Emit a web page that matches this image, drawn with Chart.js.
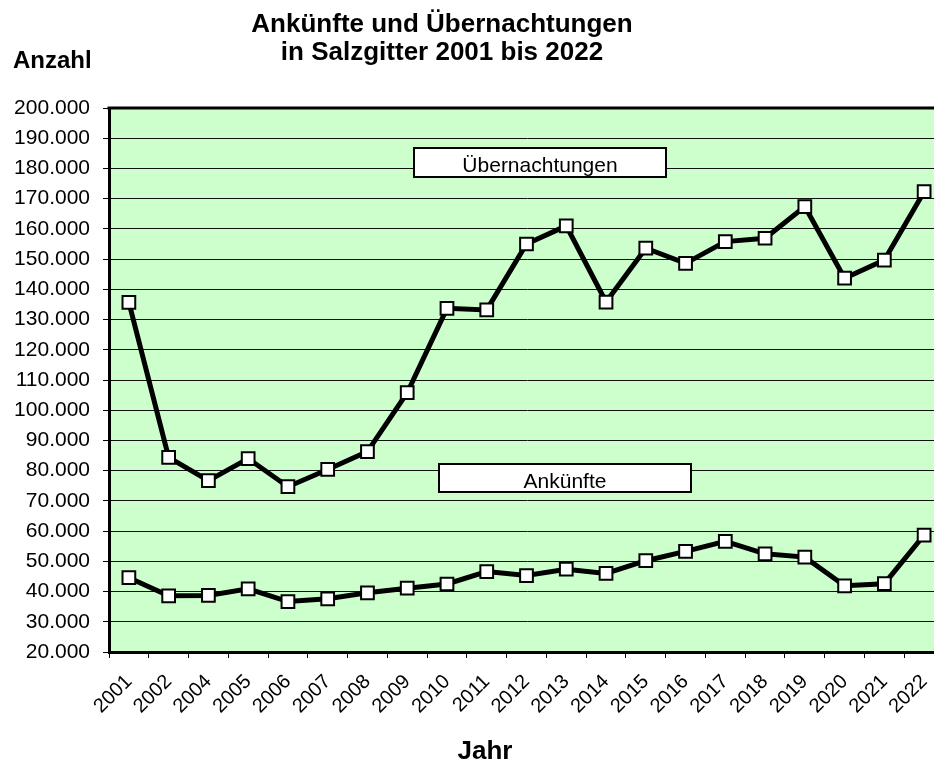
<!DOCTYPE html>
<html lang="de">
<head>
<meta charset="utf-8">
<title>Ankünfte und Übernachtungen in Salzgitter 2001 bis 2022</title>
<script src="https://cdn.jsdelivr.net/npm/chart.js@4.4.1/dist/chart.umd.min.js"></script>
<style>
  html, body { margin: 0; padding: 0; background: #ffffff; overflow: hidden; width: 934px; height: 762px; }
  #wrap { position: relative; width: 934px; height: 762px; overflow: hidden; }
  #chart { position: absolute; left: 0; top: 0; }
</style>
</head>
<body>
<div id="wrap"><canvas id="chart" width="944" height="762"></canvas></div>
<script>
// Jahre (2003 fehlt in der Statistik)
const years = ['2001', '2002', '2004', '2005', '2006', '2007', '2008', '2009', '2010', '2011',
  '2012', '2013', '2014', '2015', '2016', '2017', '2018', '2019', '2020', '2021', '2022'];

const uebernachtungen = [135700, 84400, 76700, 84000, 74700, 80400, 86300, 105800, 133700, 133200,
  155000, 161000, 135800, 153600, 148600, 155800, 156900, 167400, 143700, 149700, 172300];

const ankuenfte = [44600, 38600, 38700, 40900, 36700, 37600, 39600, 41100, 42500, 46600,
  45300, 47400, 46000, 50200, 53300, 56600, 52500, 51400, 41900, 42600, 58700];

const yMin = 20000;
const yMax = 200000;
const yStep = 10000;

const titleLines = ['Ankünfte und Übernachtungen', 'in Salzgitter 2001 bis 2022'];
const yTitle = 'Anzahl';
const xTitle = 'Jahr';
const seriesNames = ['Übernachtungen', 'Ankünfte'];

const FONT = '"Liberation Sans", Arial, Helvetica, sans-serif';

// Tausenderpunkt wie in der deutschen Schreibweise
function formatNumber(v) {
  return String(Math.round(v)).replace(/\B(?=(\d{3})+(?!\d))/g, '.');
}

// Hintergrund, Rahmen, Titel und Beschriftungsfelder
const decorations = {
  id: 'decorations',
  beforeDraw(chart) {
    const { ctx, chartArea: a } = chart;
    ctx.save();
    ctx.fillStyle = '#ffffff';
    ctx.fillRect(0, 0, chart.width, chart.height);
    ctx.fillStyle = '#ccffcc';
    ctx.fillRect(a.left, a.top, a.right - a.left, a.bottom - a.top);
    ctx.restore();
  },
  afterDatasetsDraw(chart) {
    const { ctx, chartArea: a } = chart;
    ctx.save();
    // oberer Rahmen der Zeichenfläche
    ctx.strokeStyle = '#000000';
    ctx.lineWidth = 3;
    ctx.beginPath();
    ctx.moveTo(a.left - 1.5, a.top);
    ctx.lineTo(a.right, a.top);
    ctx.stroke();

    // Reihenbeschriftungen in weißen Kästen
    const boxes = [
      { text: seriesNames[0], x: 414, y: 148, w: 252, h: 29 },
      { text: seriesNames[1], x: 439, y: 464, w: 252, h: 28 }
    ];
    ctx.font = '21px ' + FONT;
    ctx.textAlign = 'center';
    ctx.textBaseline = 'alphabetic';
    boxes.forEach(b => {
      ctx.fillStyle = '#ffffff';
      ctx.fillRect(b.x, b.y, b.w, b.h);
      ctx.lineWidth = 2;
      ctx.strokeStyle = '#000000';
      ctx.strokeRect(b.x, b.y, b.w, b.h);
      ctx.fillStyle = '#000000';
      ctx.fillText(b.text, b.x + b.w / 2, b.y + 23.5);
    });

    // Titel und Achsentitel
    ctx.fillStyle = '#000000';
    ctx.font = 'bold 26px ' + FONT;
    ctx.textAlign = 'center';
    ctx.fillText(titleLines[0], 442, 32);
    ctx.fillText(titleLines[1], 442, 60);
    ctx.font = 'bold 24px ' + FONT;
    ctx.textAlign = 'left';
    ctx.fillText(yTitle, 13, 68);
    ctx.font = 'bold 26px ' + FONT;
    ctx.textAlign = 'center';
    ctx.fillText(xTitle, 485, 759);
    ctx.restore();
  }
};

const lineStyle = {
  borderColor: '#000000',
  borderWidth: 5,
  tension: 0,
  pointStyle: 'rect',
  pointRadius: 9,
  pointHoverRadius: 9,
  pointBackgroundColor: '#ffffff',
  pointBorderColor: '#000000',
  pointBorderWidth: 2,
  fill: false
};

new Chart(document.getElementById('chart'), {
  type: 'line',
  data: {
    labels: years,
    datasets: [
      Object.assign({ label: seriesNames[0], data: uebernachtungen }, lineStyle),
      Object.assign({ label: seriesNames[1], data: ankuenfte }, lineStyle)
    ]
  },
  options: {
    responsive: false,
    devicePixelRatio: 1,
    animation: false,
    layout: { autoPadding: false, padding: { top: 108, left: 0, right: 0, bottom: 0 } },
    plugins: {
      legend: { display: false },
      tooltip: { enabled: false },
      title: { display: false }
    },
    scales: {
      x: {
        type: 'category',
        offset: true,
        afterFit(scale) {
          scale.height = 110;
          scale.paddingLeft = 0;
          scale.paddingRight = 0;
        },
        grid: {
          offset: true,
          drawOnChartArea: false,
          drawTicks: true,
          tickLength: 6,
          color: '#000000',
          lineWidth: 1
        },
        border: { display: true, color: '#000000', width: 3 },
        ticks: {
          autoSkip: false,
          minRotation: 45,
          maxRotation: 45,
          padding: 12,
          color: '#000000',
          font: { family: FONT, size: 20 }
        }
      },
      y: {
        min: yMin,
        max: yMax,
        afterFit(scale) { scale.width = 109; },
        grid: {
          color: '#111111',
          lineWidth: 1,
          drawTicks: true,
          tickLength: 6,
          tickColor: '#000000'
        },
        border: { display: true, color: '#000000', width: 3 },
        ticks: {
          stepSize: yStep,
          padding: 13,
          color: '#000000',
          font: { family: FONT, size: 21 },
          callback: v => formatNumber(v)
        }
      }
    }
  },
  plugins: [decorations]
});
</script>
</body>
</html>
